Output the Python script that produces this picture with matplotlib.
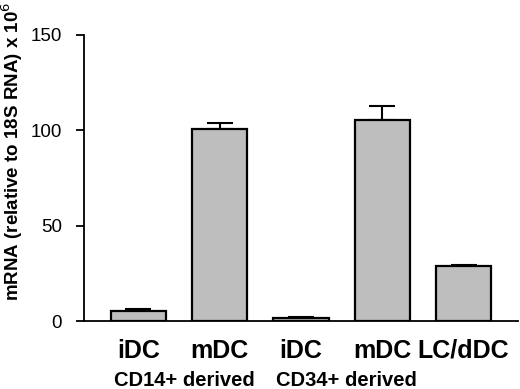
import matplotlib
matplotlib.use("Agg")
import matplotlib.pyplot as plt
import numpy as np

plt.rcParams['font.family'] = ['Liberation Sans', 'DejaVu Sans']

cell_types = ["iDC", "mDC", "iDC", "mDC", "LC/dDC"]
groups = ["CD14+ derived", "CD34+ derived"]
values = [5.5, 100.5, 1.8, 105.5, 29.0]
errors = [0.8, 3.2, 0.5, 7.2, 0.6]

fig = plt.figure(figsize=(5.2, 3.89), dpi=100)
ax = fig.add_axes([84/520, 68/389, (518-84)/520, (321-35)/389])

x = np.arange(len(values))
ax.bar(x, values, width=0.68, color="#bebebe", edgecolor="black", linewidth=1.6, zorder=2)
ax.errorbar(x, values, yerr=[[0]*len(values), errors], fmt="none", ecolor="black",
            elinewidth=1.5, capsize=9.7, capthick=1.5, zorder=1)

ax.set_xlim(-0.67, 4.67)
ax.set_ylim(0, 150)
ax.set_yticks([0, 50, 100, 150])
ax.tick_params(axis='y', labelsize=13.5, length=6, width=1.3, direction='out', pad=10)
ax.set_xticks([])
for s in ["top", "right"]:
    ax.spines[s].set_visible(False)
ax.spines["left"].set_linewidth(1.3)
ax.spines["bottom"].set_linewidth(1.3)

fig.text(12/520, 1 - 151/389, "mRNA (relative to 18S RNA) x 10$^{6}$", rotation=90,
         ha="center", va="center", fontsize=13.5, fontweight="bold")

for xi, name in zip(x, cell_types):
    ax.text(xi, -14.2, name, ha="center", va="center_baseline", fontsize=18, fontweight="bold",
            clip_on=False)
group_pos = [0.56, 2.56]
for gp, g in zip(group_pos, groups):
    ax.text(gp, -30, g, ha="center", va="center_baseline", fontsize=14.5, fontweight="bold",
            clip_on=False)

fig.savefig("out.png", dpi=100)
